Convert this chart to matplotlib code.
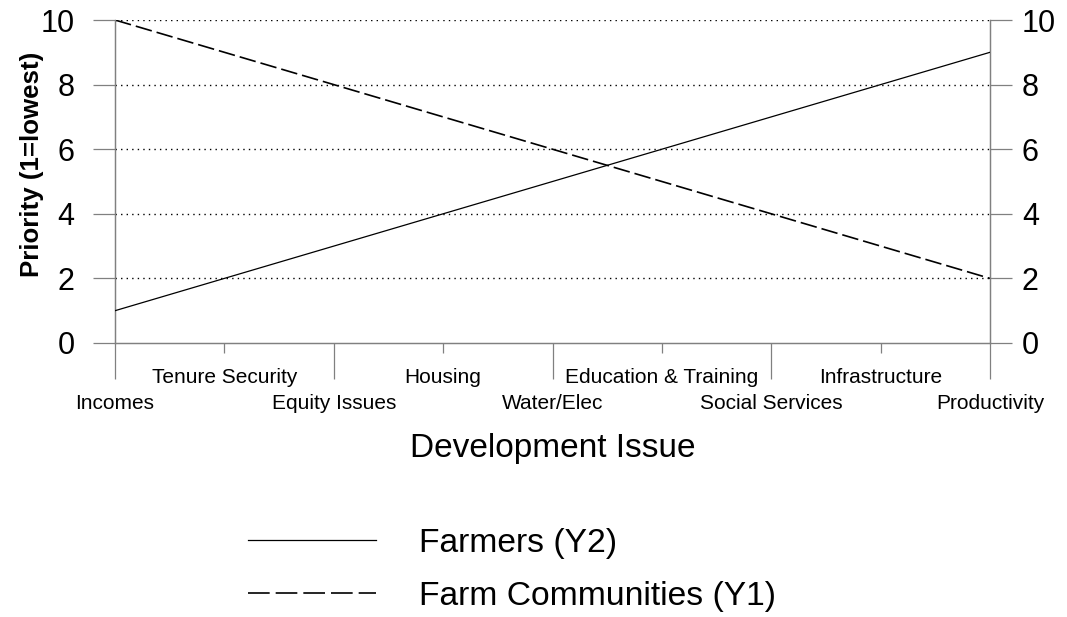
import matplotlib
matplotlib.use("Agg")
import matplotlib.pyplot as plt
from matplotlib.lines import Line2D

plt.rcParams['font.family'] = ['Liberation Sans', 'DejaVu Sans']

categories = ["Incomes", "Tenure Security", "Equity Issues", "Housing", "Water/Elec",
              "Education & Training", "Social Services", "Infrastructure", "Productivity"]
farmers_y2 = [1, 2, 3, 4, 5, 6, 7, 8, 9]
farm_communities_y1 = [10, 9, 8, 7, 6, 5, 4, 3, 2]
y_ticks = [0, 2, 4, 6, 8, 10]

fig = plt.figure(figsize=(10.67, 6.17), dpi=100)
ax = fig.add_axes([115/1067, 1-343/617, 875/1067, 323/617])
ax2 = ax.twinx()

x = list(range(len(categories)))
ax.set_xlim(0, len(categories) - 1)
ax.set_ylim(0, 10)
ax2.set_ylim(0, 10)

# gridlines
for yv in y_ticks[1:]:
    ax.axhline(yv, color='black', lw=1.0, linestyle=(0, (1, 3)), zorder=1)

l1, = ax.plot(x, farm_communities_y1, color='black', lw=1.2, linestyle=(0, (10, 3)), zorder=3)
l2, = ax2.plot(x, farmers_y2, color='black', lw=0.9, zorder=3)

gray = '#808080'
for a in (ax, ax2):
    for s in a.spines.values():
        s.set_color(gray)
        s.set_linewidth(0.9)
    a.spines['top'].set_visible(False)

ax.set_yticks(y_ticks)
ax2.set_yticks(y_ticks)
ax.tick_params(axis='y', direction='out', length=16, width=0.9, color=gray, labelsize=22, pad=13)
ax2.tick_params(axis='y', direction='out', length=16, width=0.9, color=gray, labelsize=22, pad=7)

even = [i for i in x if i % 2 == 0]
odd = [i for i in x if i % 2 == 1]
ax.set_xticks(even, [categories[i] for i in even])
ax.set_xticks(odd, [categories[i] for i in odd], minor=True)
ax.tick_params(axis='x', which='major', direction='out', length=26, width=0.9, color=gray, labelsize=15, pad=11)
ax.tick_params(axis='x', which='minor', direction='out', length=7, width=0.9, color=gray, labelsize=15, pad=11)

ax.set_ylabel("Priority (1=lowest)", fontsize=18.6, fontweight='bold')
ax.yaxis.set_label_coords(-0.081, 0.553)
ax.set_xlabel("Development Issue", fontsize=24)
ax.xaxis.set_label_coords(0.5, -0.28)

handles = [Line2D([], [], color='black', lw=0.9),
           Line2D([], [], color='black', lw=1.2, linestyle=(0, (13, 3.6)))]
fig.legend(handles, ["Farmers (Y2)", "Farm Communities (Y1)"], loc='center left',
           bbox_to_anchor=(248/1067, 1-570/617), frameon=False, fontsize=24.2,
           handlelength=3.8, handletextpad=1.3, labelspacing=0.65,
           borderpad=0, borderaxespad=0)

fig.savefig("out.png", dpi=100)
